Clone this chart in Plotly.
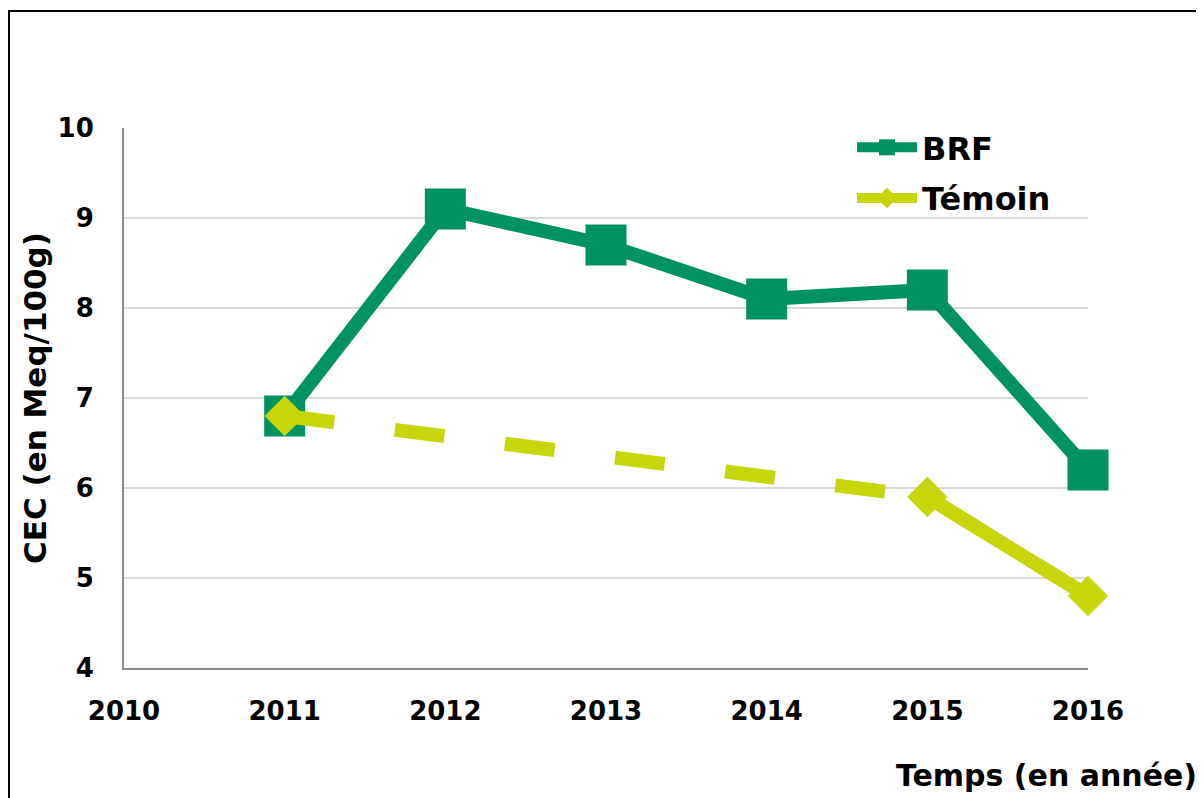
import plotly.graph_objects as go

years = [2011, 2012, 2013, 2014, 2015, 2016]
brf = [6.8, 9.1, 8.7, 8.1, 8.2, 6.2]
temoin = [6.8, None, None, None, 5.9, 4.8]

x_ticks = [2010, 2011, 2012, 2013, 2014, 2015, 2016]
y_ticks = [4, 5, 6, 7, 8, 9, 10]

GREEN = "#009262"
YELLOW = "#C6D60A"
FONT = "DejaVu Sans"

OFF = 8  # page body margin
W, H = 1204 - OFF, 798 - OFF
# plot area in page coords: x 124..1088, y 128..668
L, R = 124 - OFF, W - (1088 - OFF)
T, B = 128 - OFF, H - (668 - OFF)
PW, PH = W - L - R, H - T - B

def px_x(p):
    return (p - OFF - L) / PW

def px_y(p):
    return (H - B - (p - OFF)) / PH

fig = go.Figure()

fig.add_trace(go.Scatter(
    x=years, y=brf, name="BRF", mode="lines+markers", legendgroup="a",
    line=dict(color=GREEN, width=14), cliponaxis=False,
    marker=dict(symbol="square", size=41, color=GREEN),
))

fig.add_trace(go.Scatter(
    x=years, y=temoin, name="Témoin", mode="lines", connectgaps=True,
    line=dict(color=YELLOW, width=14, dash="50px,61px"), cliponaxis=False,
    showlegend=False, hoverinfo="skip", legendgroup="b",
))

fig.add_trace(go.Scatter(
    x=years, y=temoin, name="Témoin", mode="lines+markers", connectgaps=False,
    legendgroup="b", cliponaxis=False,
    line=dict(color=YELLOW, width=14),
    marker=dict(symbol="diamond", size=31, color=YELLOW),
))

fig.update_layout(
    width=W, height=H,
    margin=dict(l=L, r=R, t=T, b=B),
    paper_bgcolor="white", plot_bgcolor="white",
    font=dict(family=FONT, color="black"),
    showlegend=True,
    legend=dict(
        x=px_x(852), y=px_y(120), xanchor="left", yanchor="top",
        bgcolor="rgba(0,0,0,0)", tracegroupgap=6, itemwidth=60,
        font=dict(family=FONT, size=32, color="black", weight="bold"),
    ),
    xaxis=dict(
        range=[2010, 2016], tickvals=x_ticks, ticktext=[str(v) for v in x_ticks],
        showgrid=False, zeroline=False,
        showline=True, linecolor="#8C8C8C", linewidth=2,
        ticks="", ticklabelstandoff=19,
        tickfont=dict(family=FONT, size=26, color="black", weight="bold"),
    ),
    yaxis=dict(
        range=[4, 10], tickvals=y_ticks,
        showgrid=True, gridcolor="#D9D9D9", gridwidth=2, zeroline=False,
        showline=True, linecolor="#8C8C8C", linewidth=2,
        ticks="", ticklabelstandoff=23,
        tickfont=dict(family=FONT, size=26, color="black", weight="bold"),
    ),
    annotations=[
        dict(text="CEC (en Meq/100g)", x=px_x(35), y=0.5, xref="paper", yref="paper",
             xanchor="center", yanchor="middle", textangle=-90, showarrow=False,
             font=dict(family=FONT, size=31, color="black", weight="bold")),
        dict(text="Temps (en année)", x=px_x(1199), y=px_y(775), xref="paper", yref="paper",
             xanchor="right", yanchor="middle", showarrow=False,
             font=dict(family=FONT, size=30, color="black", weight="bold")),
    ],
    shapes=[
        dict(type="rect", xref="paper", yref="paper",
             x0=px_x(9), x1=px_x(1300), y0=px_y(900), y1=px_y(11),
             line=dict(color="black", width=2), fillcolor="rgba(0,0,0,0)", layer="below"),
    ],
)

fig.write_html("out.html")
